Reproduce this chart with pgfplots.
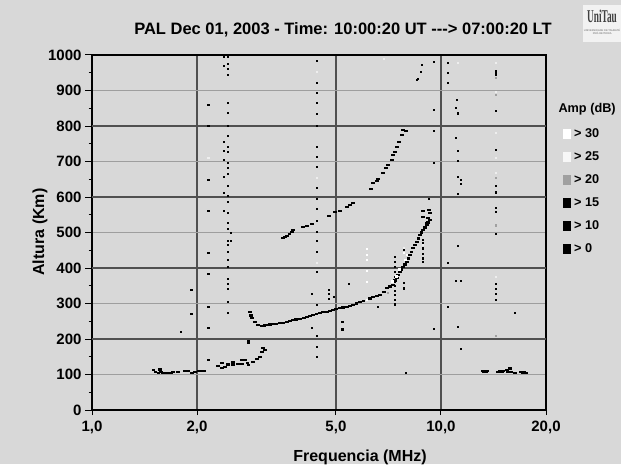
\documentclass[border=0pt]{standalone}
\usepackage{pgfplots}
\pgfplotsset{compat=1.18}
\usepackage{fontspec}
\setmainfont{Liberation Sans}
\newfontfamily\serifb{Liberation Serif}
\definecolor{bg}{RGB}{216,216,216}
\definecolor{gdark}{RGB}{80,80,80}
\definecolor{glight}{RGB}{158,158,158}
\definecolor{lgray}{RGB}{238,238,238}
\definecolor{mgray}{RGB}{160,160,160}
\pgfdeclareplotmark{dash}{\pgfpathrectangle{\pgfpoint{-1.9pt}{-1.1pt}}{\pgfpoint{3.8pt}{2.2pt}}\pgfusepathqfill}
\pgfdeclareplotmark{dot}{\pgfpathrectangle{\pgfpoint{-1.3pt}{-1.3pt}}{\pgfpoint{2.6pt}{2.6pt}}\pgfusepathqfill}
\begin{document}
\begin{tikzpicture}[x=1pt,y=1pt]
\fill[bg] (0,0) rectangle (621,464);
\begin{axis}[
  at={(92pt,54pt)}, anchor=south west,
  width=454pt, height=355pt, scale only axis,
  xmode=log, xmin=1, xmax=20, ymin=0, ymax=1000,
  xtick={1,2,5,10,20}, xticklabels={{1,0},{2,0},{5,0},{10,0},{20,0}},
  xminorticks=false,
  ytick={0,100,200,300,400,500,600,700,800,900,1000},
  yticklabels={0,100,200,300,400,500,600,700,800,900,1000},
  minor y tick num=1,
  tick pos=left,
  tick align=outside,
  major tick length=7pt, minor tick length=3.5pt,
  xtick style={/pgfplots/major tick length=5pt},
  tick style={black, line width=1pt},
  xmajorgrids, ymajorgrids,
  major x grid style={gdark, line width=1.2pt},
  major y grid style={glight, line width=1.6pt},
  extra y ticks={200,400,600,800},
  extra y tick labels={},
  extra y tick style={grid=major, major grid style={gdark, line width=1.3pt}, major y grid style={gdark, line width=1.3pt}},
  axis line style={black, line width=1.4pt},
  ticklabel style={font=\fontsize{15}{15}\selectfont\bfseries},
  clip=false,
  legend style={at={(1.0374,0.80)}, anchor=north west, draw=none, fill=none, inner sep=0pt, row sep=8.8pt, font=\fontsize{12.7}{13}\selectfont\bfseries, column sep=1.5pt},
  legend cell align=left,
]
% black isolated echoes
\addplot[only marks, mark=dot, black, forget plot] table {
2.45 994
2.45 975
2.45 961
2.45 944
2.45 865
2.45 837
2.45 800
2.45 772
2.45 741
2.45 727
2.45 696
2.45 682
2.45 665
2.45 631
2.45 603
2.45 586
2.45 555
2.45 527
2.45 510
2.45 476
2.45 465
2.45 445
2.45 423
2.45 403
2.45 369
2.45 355
2.45 341
2.45 304
2.45 273
2.39 994
2.39 969
2.39 755
2.39 730
2.39 704
2.39 656
2.39 611
2.39 561
2.50 499
2.50 476
2.16 859
2.16 800
2.16 648
2.16 561
2.16 442
2.16 383
2.16 290
2.16 231
2.16 141
1.93 338
1.93 270
1.80 220
2.81 189
4.41 983
4.41 921
4.41 893
4.41 865
4.41 834
4.41 800
4.41 741
4.41 713
4.41 685
4.41 625
4.41 594
4.41 566
4.41 532
4.41 501
4.41 476
4.41 445
4.41 389
4.41 296
4.41 208
4.41 177
4.41 149
4.27 327
4.27 231
4.78 338
4.78 327
4.78 313
4.94 318
5.22 248
5.22 226
5.45 355
6.60 290
7.38 431
7.38 417
7.38 403
7.38 389
7.38 375
7.38 361
7.38 349
7.38 335
7.38 324
7.38 310
7.38 298
7.83 451
7.83 358
7.83 343
8.88 479
8.88 469
8.88 455
8.88 440
8.88 427
8.88 417
9.55 980
9.55 845
9.55 786
9.55 696
9.55 228
10.47 977
10.47 949
10.47 921
10.47 414
10.47 290
11.04 851
11.04 766
11.04 363
11.11 873
11.18 836
11.18 730
11.18 701
11.18 656
11.18 608
11.18 462
11.18 234
11.41 648
11.41 637
11.41 363
11.41 172
8.82 972
8.77 952
8.59 932
8.54 930
9.24 594
7.94 104
16.29 273
14.38 955
14.38 949
14.38 944
14.38 842
14.38 732
14.38 631
14.38 614
14.38 611
14.38 569
14.38 558
14.38 496
14.38 355
14.38 341
14.38 327
14.38 310
};
% traces (E, F, 2F, upper, high-frequency E)
\addplot[only marks, mark=dash, black, forget plot] table {
1.50 112
1.52 106
1.55 104
1.57 114
1.58 108
1.60 104
1.64 104
1.68 105
1.71 107
1.76 107
1.85 110
1.88 110
1.93 105
1.97 108
2.02 110
2.06 110
2.10 110
2.30 124
2.36 132
2.36 118
2.40 121
2.45 128
2.53 135
2.53 128
2.62 130
2.69 141
2.69 130
2.75 141
2.79 132
2.81 127
2.89 135
2.97 144
3.03 149
3.07 163
3.09 175
3.13 169
2.81 195
2.84 276
2.85 266
2.87 259
2.93 248
2.99 239
3.07 237
3.12 238
3.17 239
3.24 241
3.30 242
3.38 243
3.46 245
3.54 246
3.62 248
3.69 251
3.76 254
3.85 255
3.95 256
4.04 259
4.13 262
4.22 265
4.30 268
4.40 270
4.50 273
4.60 275
4.71 276
4.80 279
4.90 282
5.01 285
5.13 287
5.25 289
5.38 290
5.49 293
5.60 296
5.73 300
5.86 304
6.00 307
6.26 314
6.39 318
6.54 321
6.69 324
6.85 333
7.00 344
7.15 348
7.29 352
7.38 365
7.48 372
7.55 380
7.63 389
7.70 396
7.78 403
7.88 410
7.99 417
8.07 427
8.15 437
8.23 446
8.31 456
8.42 464
8.54 473
8.62 483
8.71 493
8.80 500
8.88 507
9.00 514
9.12 521
9.20 528
9.30 535
9.12 527
9.18 541
9.30 555
9.24 563
8.88 544
8.88 561
3.53 484
3.58 487
3.62 490
3.68 496
3.74 501
3.77 507
4.02 516
4.13 518
4.27 524
4.78 546
4.97 558
5.14 561
5.38 572
5.49 577
5.60 583
6.30 623
6.39 639
6.56 645
6.60 651
6.82 668
6.96 682
7.05 690
7.24 704
7.29 718
7.38 727
7.48 741
7.58 755
7.73 775
7.78 789
7.94 786
13.19 110
13.27 106
13.36 110
13.45 106
13.54 110
14.60 107
14.80 110
14.96 106
15.10 110
15.50 112
15.60 106
15.77 117
15.90 107
16.30 104
17.00 108
17.13 104
17.30 107
17.50 104
};
% weaker echoes
\addplot[only marks, mark=dot, mgray, forget plot] table {
14.38 935
14.38 887
14.38 654
14.38 521
14.38 518
14.38 208
7.05 330
};
\addplot[only marks, mark=dot, lgray, forget plot] table {
4.41 952
4.41 654
4.41 414
2.16 710
6.87 989
11.18 977
14.38 977
14.38 896
14.38 780
14.38 710
14.38 668
14.38 375
7.83 456
8.88 465
};
\addplot[only marks, mark=dot, white, forget plot] table {
6.14 454
6.14 437
6.14 423
6.14 392
6.14 361
6.14 310
7.25 362
7.45 376
7.60 395
7.90 423
7.83 442
8.00 437
};
% legend
\addlegendimage{legend image code/.code={\fill[white] (0pt,-4.5pt) rectangle (7pt,4.5pt);}}
\addlegendentry{> 30}
\addlegendimage{legend image code/.code={\fill[white!97!black] (0pt,-4.5pt) rectangle (7pt,4.5pt);}}
\addlegendentry{> 25}
\addlegendimage{legend image code/.code={\fill[mgray] (0pt,-4.5pt) rectangle (7pt,4.5pt);}}
\addlegendentry{> 20}
\addlegendimage{legend image code/.code={\fill[black] (0pt,-4.5pt) rectangle (7pt,4.5pt);}}
\addlegendentry{> 15}
\addlegendimage{legend image code/.code={\fill[black] (0pt,-4.5pt) rectangle (7pt,4.5pt);}}
\addlegendentry{> 10}
\addlegendimage{legend image code/.code={\fill[black] (0pt,-4.5pt) rectangle (7pt,4.5pt);}}
\addlegendentry{> 0}
\end{axis}
\node[font=\fontsize{16.5}{17}\selectfont\bfseries] at (343,434) {PAL Dec 01, 2003 - Time: 10:00:20 UT \mbox{-}\mbox{-}\mbox{-}> 07:00:20 LT};
\node[font=\fontsize{16}{16}\selectfont\bfseries, rotate=90] at (40,232) {Altura (Km)};
\node[font=\fontsize{16}{16}\selectfont\bfseries] at (360,7) {Frequencia (MHz)};
\node[font=\fontsize{12.7}{13}\selectfont\bfseries, anchor=west] at (555,355) {Amp (dB)};
% logo
\fill[white!95!black] (583,422) rectangle (621,459);
\node[font=\serifb\bfseries\fontsize{15}{15}\selectfont, text=black!75, inner sep=0] at (602,448) {\scalebox{0.62}[1.2]{UniTau}};
\node[font=\fontsize{2.6}{3}\selectfont, text=black!60, inner sep=0, align=center] at (602,432) {UNIVERSIDADE DE TAUBAT\'E\\ \,PRÓ-REITORIA};
\pgfresetboundingbox
\path[use as bounding box] (0,0) rectangle (621,464);
\end{tikzpicture}
\end{document}
